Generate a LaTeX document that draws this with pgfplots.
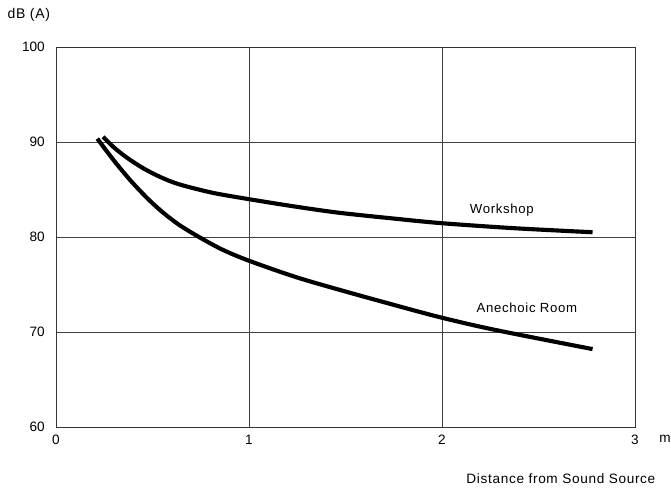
\documentclass[border=0pt]{standalone}
\usepackage{pgfplots}
\pgfplotsset{compat=1.18}
\usepackage{fontspec}
\setmainfont{Liberation Sans}
\newfontfamily\lbl[LetterSpace=5]{Liberation Sans}

% sound level versus distance, workshop and anechoic room
\pgfplotstableread{
x     y
0.244 90.55
0.30  89.43
0.368 88.34
0.455 87.2
0.542 86.3
0.637 85.55
0.81  84.66
1.00  83.98
1.24  83.2
1.467 82.55
1.76  81.92
2.00  81.45
2.37  80.93
2.78  80.5
}\workshop

\pgfplotstableread{
x     y
0.214 90.35
0.30  88.05
0.386 85.95
0.473 84.08
0.55  82.65
0.637 81.29
0.741 80.0
0.862 78.67
1.00  77.5
1.24  75.8
1.467 74.45
1.76  72.8
2.00  71.5
2.28  70.2
2.78  68.2
}\anechoic

\begin{document}
\begin{tikzpicture}
\path[use as bounding box] (-42pt,-48pt) rectangle (461.25pt,320.25pt);
\begin{axis}[
  at={(0,0)}, anchor=south west,
  scale only axis,
  width=434.25pt, height=285pt,
  xmin=0, xmax=3, ymin=60, ymax=100,
  xtick={0,1,2,3}, ytick={60,70,80,90,100},
  major tick length=0pt,
  grid=major,
  major grid style={line width=0.7pt, color=black!75},
  axis line style={line width=0.7pt, color=black!80},
  tick label style={font=\fontsize{10.2}{12}\selectfont, inner sep=0pt},
  /pgf/number format/assume math mode=true,
  xticklabel style={anchor=north, yshift=-6pt},
  yticklabel style={anchor=east, xshift=-8.25pt},
  clip=false,
]
\addplot[black, line width=3.1pt, smooth] table[x=x, y=y] {\workshop};
\addplot[black, line width=3.1pt, smooth] table[x=x, y=y] {\anechoic};

\node[font=\lbl\fontsize{9.9}{11}\selectfont] at (axis cs:2.31,82.8) {Workshop};
\node[font=\lbl\fontsize{9.9}{11}\selectfont] at (axis cs:2.44,72.55) {Anechoic Room};

\node[font=\lbl\fontsize{10.5}{12}\selectfont] at (rel axis cs:-0.047,1.084) {dB (A)};
\node[font=\fontsize{10.2}{12}\selectfont, inner sep=0pt, anchor=north] at (rel axis cs:1.052,0) [yshift=-6pt] {m};
\node[font=\lbl\fontsize{10.2}{12}\selectfont] at (rel axis cs:0.872,0) [yshift=-38.5pt] {Distance from Sound Source};
\end{axis}
\end{tikzpicture}
\end{document}
